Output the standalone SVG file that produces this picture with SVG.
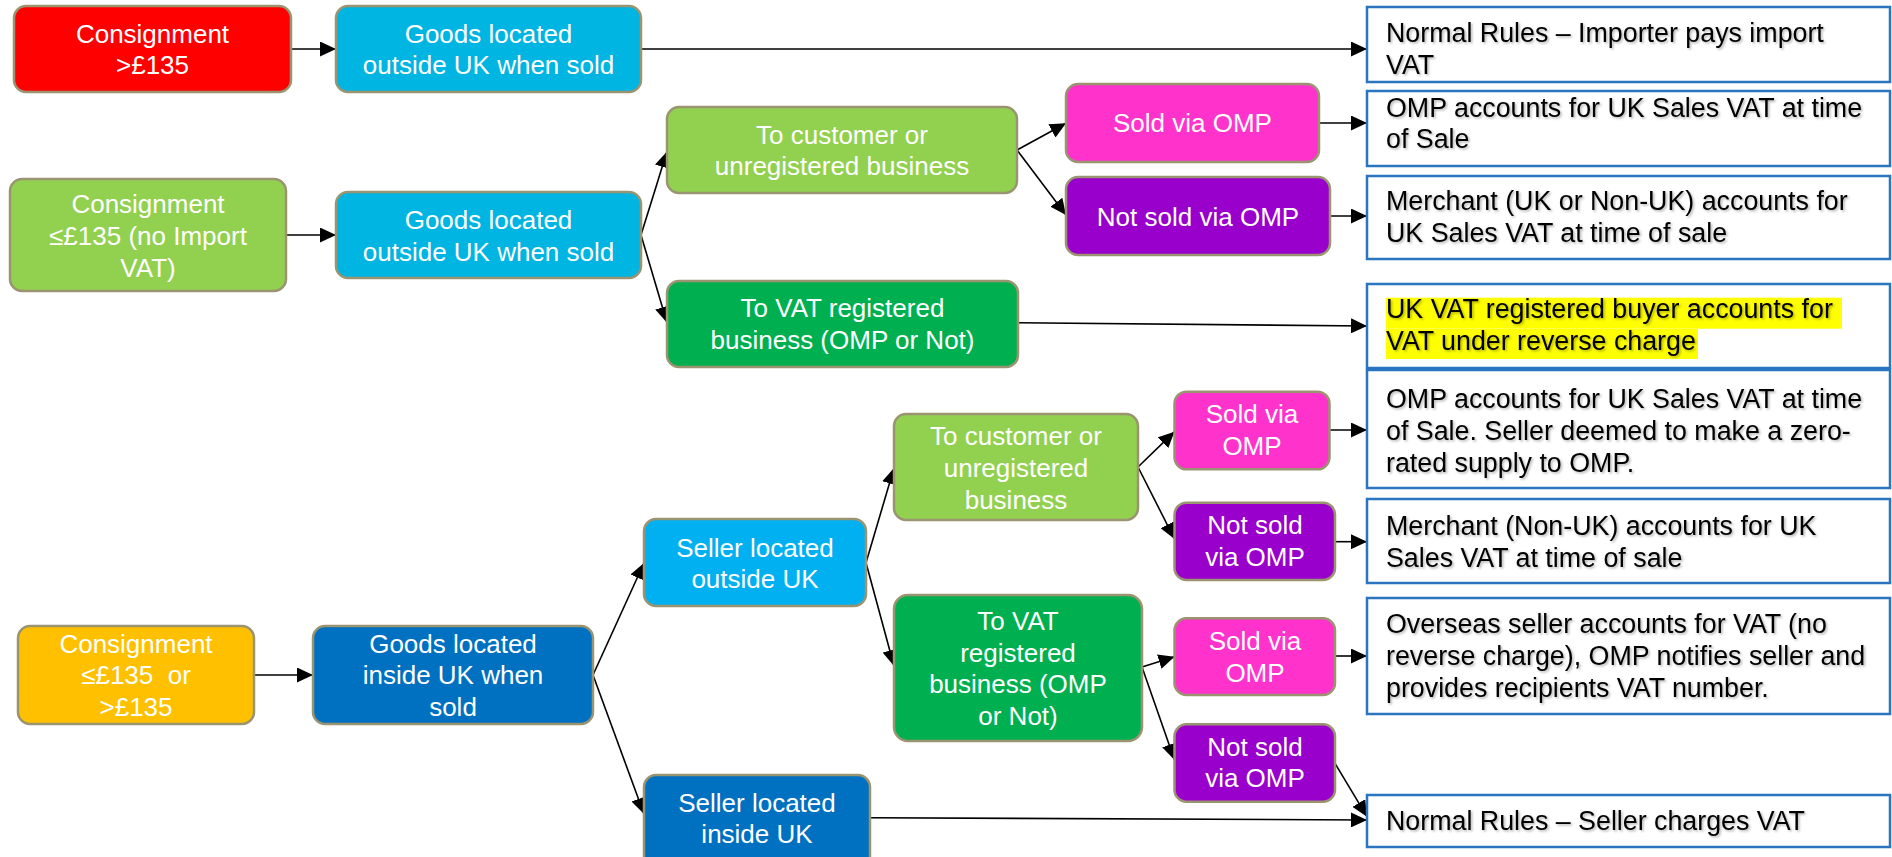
<svg xmlns="http://www.w3.org/2000/svg" width="1892" height="857" viewBox="0 0 1892 857">
  <defs>
    <style>
      .node { stroke: #9a9470; stroke-width: 2.5; }
      .red { fill: #ff0000; }
      .cyan { fill: #00b5e2; }
      .sky { fill: #00b0f0; }
      .lgreen { fill: #92d050; }
      .dgreen { fill: #00b050; }
      .magenta { fill: #ff33cc; }
      .purple { fill: #9900cc; }
      .orange { fill: #ffc000; }
      .blue { fill: #0070c0; }
      .ntext { font-family: "Liberation Sans", Arial, sans-serif; font-size: 26px; fill: #ffffff; text-anchor: middle; }
      .result { fill: #ffffff; stroke: #2a74c0; stroke-width: 2.5; }
      .rtext { font-family: "Liberation Sans", Arial, sans-serif; font-size: 26.8px; fill: #000000; filter: url(#tshadow); }
      .hl { fill: #ffff00; }
      .conn { fill: none; stroke: #000000; stroke-width: 1.6; marker-end: url(#arrow); }
    </style>
    <marker id="arrow" markerUnits="userSpaceOnUse" markerWidth="16" markerHeight="15" refX="16" refY="7.5" orient="auto">
      <path d="M0,0 L16,7.5 L0,15 z" fill="#000000"/>
    </marker>
    <filter id="tshadow" x="-5%" y="-30%" width="110%" height="160%">
      <feDropShadow dx="1.5" dy="1.5" stdDeviation="1" flood-color="#000000" flood-opacity="0.3"/>
    </filter>
  </defs>

  <rect width="1892" height="857" fill="#ffffff"/>

  <!-- connectors -->
  <g id="connectors">
    <line class="conn" x1="291" y1="49" x2="336" y2="49"/>
    <line class="conn" x1="641" y1="49" x2="1367" y2="49"/>
    <line class="conn" x1="286" y1="235" x2="336" y2="235"/>
    <line class="conn" x1="641" y1="235" x2="667" y2="151.5"/>
    <line class="conn" x1="641" y1="235" x2="667" y2="322.7"/>
    <line class="conn" x1="1017" y1="150" x2="1066" y2="123.3"/>
    <line class="conn" x1="1017" y1="150" x2="1066" y2="215"/>
    <line class="conn" x1="1319" y1="123" x2="1367" y2="123"/>
    <line class="conn" x1="1330" y1="216" x2="1367" y2="216"/>
    <line class="conn" x1="1018" y1="322.7" x2="1367" y2="326"/>
    <line class="conn" x1="254" y1="675" x2="313" y2="675"/>
    <line class="conn" x1="593" y1="675" x2="644" y2="563"/>
    <line class="conn" x1="593" y1="675" x2="644" y2="814"/>
    <line class="conn" x1="866" y1="562.7" x2="894" y2="468"/>
    <line class="conn" x1="866" y1="562.7" x2="894" y2="666"/>
    <line class="conn" x1="1138" y1="467" x2="1174.5" y2="431.7"/>
    <line class="conn" x1="1138" y1="467" x2="1174.5" y2="539"/>
    <line class="conn" x1="1142" y1="667" x2="1174.5" y2="656.7"/>
    <line class="conn" x1="1142" y1="667" x2="1174.5" y2="760"/>
    <line class="conn" x1="1329.5" y1="430" x2="1367" y2="430"/>
    <line class="conn" x1="1335" y1="541.7" x2="1367" y2="541.7"/>
    <line class="conn" x1="1335" y1="656" x2="1367" y2="656"/>
    <line class="conn" x1="1335" y1="763.3" x2="1367" y2="816.7"/>
    <line class="conn" x1="870" y1="817.7" x2="1367" y2="820"/>
  </g>

  <!-- imported consignments over £135 -->
  <g id="cons-high">
    <rect class="node red" x="14" y="6" width="277" height="86" rx="12"/>
    <text class="ntext" x="152.5" y="42.7">Consignment</text>
    <text class="ntext" x="152.5" y="74">&gt;£135</text>
  </g>
  <g id="goods-out-1">
    <rect class="node cyan" x="336" y="6" width="305" height="86" rx="12"/>
    <text class="ntext" x="488.5" y="42.7">Goods located</text>
    <text class="ntext" x="488.5" y="74">outside UK when sold</text>
  </g>

  <!-- consignments up to £135 -->
  <g id="cons-low">
    <rect class="node lgreen" x="10" y="179" width="276" height="112" rx="12"/>
    <text class="ntext" x="148" y="212.7">Consignment</text>
    <text class="ntext" x="148" y="245">≤£135 (no Import</text>
    <text class="ntext" x="148" y="277.3">VAT)</text>
  </g>
  <g id="goods-out-2">
    <rect class="node cyan" x="336" y="192" width="305" height="86" rx="12"/>
    <text class="ntext" x="488.5" y="229">Goods located</text>
    <text class="ntext" x="488.5" y="260.5">outside UK when sold</text>
  </g>
  <g id="cust-1">
    <rect class="node lgreen" x="667" y="107" width="350" height="86" rx="12"/>
    <text class="ntext" x="842" y="143.5">To customer or</text>
    <text class="ntext" x="842" y="175">unregistered business</text>
  </g>
  <g id="omp-1">
    <rect class="node magenta" x="1066" y="84" width="253" height="78" rx="12"/>
    <text class="ntext" x="1192.5" y="132.3">Sold via OMP</text>
  </g>
  <g id="notomp-1">
    <rect class="node purple" x="1066" y="177" width="264" height="78" rx="12"/>
    <text class="ntext" x="1198" y="225.7">Not sold via OMP</text>
  </g>
  <g id="vat-1">
    <rect class="node dgreen" x="667" y="281" width="351" height="86" rx="12"/>
    <text class="ntext" x="842.5" y="317.3">To VAT registered</text>
    <text class="ntext" x="842.5" y="349.3">business (OMP or Not)</text>
  </g>

  <!-- goods already in the UK -->
  <g id="cons-any">
    <rect class="node orange" x="18" y="626" width="236" height="98" rx="12"/>
    <text class="ntext" x="136" y="652.7">Consignment</text>
    <text class="ntext" x="136" y="684" style="white-space:pre">≤£135  or</text>
    <text class="ntext" x="136" y="716">&gt;£135</text>
  </g>
  <g id="goods-in">
    <rect class="node blue" x="313" y="626" width="280" height="98" rx="12"/>
    <text class="ntext" x="453" y="652.7">Goods located</text>
    <text class="ntext" x="453" y="684">inside UK when</text>
    <text class="ntext" x="453" y="716">sold</text>
  </g>
  <g id="seller-out">
    <rect class="node sky" x="644" y="519" width="222" height="87" rx="12"/>
    <text class="ntext" x="755" y="556.7">Seller located</text>
    <text class="ntext" x="755" y="588.3">outside UK</text>
  </g>
  <g id="cust-2">
    <rect class="node lgreen" x="894" y="414" width="244" height="106" rx="12"/>
    <text class="ntext" x="1016" y="445">To customer or</text>
    <text class="ntext" x="1016" y="477.3">unregistered</text>
    <text class="ntext" x="1016" y="509.3">business</text>
  </g>
  <g id="vat-2">
    <rect class="node dgreen" x="894" y="595" width="248" height="146" rx="14"/>
    <text class="ntext" x="1018" y="630">To VAT</text>
    <text class="ntext" x="1018" y="661.7">registered</text>
    <text class="ntext" x="1018" y="693.3">business (OMP</text>
    <text class="ntext" x="1018" y="725">or Not)</text>
  </g>
  <g id="omp-2">
    <rect class="node magenta" x="1174.5" y="391.7" width="155" height="77.6" rx="12"/>
    <text class="ntext" x="1252" y="422.7">Sold via</text>
    <text class="ntext" x="1252" y="455">OMP</text>
  </g>
  <g id="notomp-2">
    <rect class="node purple" x="1174.5" y="502.7" width="160.5" height="77.3" rx="12"/>
    <text class="ntext" x="1255" y="534">Not sold</text>
    <text class="ntext" x="1255" y="566">via OMP</text>
  </g>
  <g id="omp-3">
    <rect class="node magenta" x="1174.5" y="618.3" width="160.5" height="76.7" rx="12"/>
    <text class="ntext" x="1255" y="650">Sold via</text>
    <text class="ntext" x="1255" y="681.7">OMP</text>
  </g>
  <g id="notomp-3">
    <rect class="node purple" x="1174.5" y="724.3" width="160.5" height="77.4" rx="12"/>
    <text class="ntext" x="1255" y="756">Not sold</text>
    <text class="ntext" x="1255" y="787.3">via OMP</text>
  </g>
  <g id="seller-in">
    <rect class="node blue" x="644" y="775" width="226" height="100" rx="12"/>
    <text class="ntext" x="757" y="811.7">Seller located</text>
    <text class="ntext" x="757" y="842.7">inside UK</text>
  </g>

  <!-- outcome boxes -->
  <g id="result-1">
    <rect class="result" x="1367" y="7" width="523" height="75"/>
    <text class="rtext" x="1386" y="41.7">Normal Rules – Importer pays import</text>
    <text class="rtext" x="1386" y="74">VAT</text>
  </g>
  <g id="result-2">
    <rect class="result" x="1367" y="91" width="523" height="75"/>
    <text class="rtext" x="1386" y="116.7">OMP accounts for UK Sales VAT at time</text>
    <text class="rtext" x="1386" y="148.3">of Sale</text>
  </g>
  <g id="result-3">
    <rect class="result" x="1367" y="176" width="523" height="83"/>
    <text class="rtext" x="1386" y="210">Merchant (UK or Non-UK) accounts for</text>
    <text class="rtext" x="1386" y="241.7">UK Sales VAT at time of sale</text>
  </g>
  <g id="result-4">
    <rect class="result" x="1367" y="284" width="523" height="84"/>
    <rect class="hl" x="1386" y="297.7" width="456" height="31"/>
    <rect class="hl" x="1386" y="329" width="312" height="30"/>
    <text class="rtext" x="1386" y="318.3">UK VAT registered buyer accounts for</text>
    <text class="rtext" x="1386" y="350">VAT under reverse charge</text>
  </g>
  <g id="result-5">
    <rect class="result" x="1367" y="370" width="523" height="118"/>
    <text class="rtext" x="1386" y="408.3">OMP accounts for UK Sales VAT at time</text>
    <text class="rtext" x="1386" y="440">of Sale. Seller deemed to make a zero-</text>
    <text class="rtext" x="1386" y="471.7">rated supply to OMP.</text>
  </g>
  <g id="result-6">
    <rect class="result" x="1367" y="499" width="523" height="84"/>
    <text class="rtext" x="1386" y="535">Merchant (Non-UK) accounts for UK</text>
    <text class="rtext" x="1386" y="566.7">Sales VAT at time of sale</text>
  </g>
  <g id="result-7">
    <rect class="result" x="1367" y="598" width="523" height="116"/>
    <text class="rtext" x="1386" y="633.3">Overseas seller accounts for VAT (no</text>
    <text class="rtext" x="1386" y="665">reverse charge), OMP notifies seller and</text>
    <text class="rtext" x="1386" y="696.7">provides recipients VAT number.</text>
  </g>
  <g id="result-8">
    <rect class="result" x="1367" y="795" width="523" height="52"/>
    <text class="rtext" x="1386" y="830">Normal Rules – Seller charges VAT</text>
  </g>
</svg>
